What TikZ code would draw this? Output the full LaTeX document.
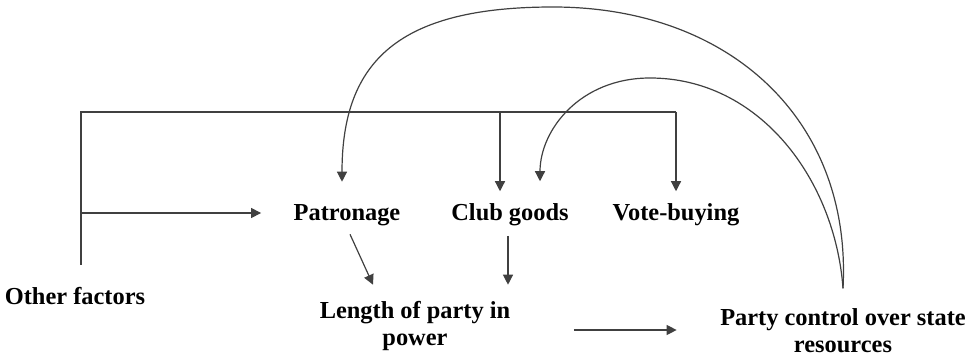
\documentclass[tikz,border=0pt]{standalone}
\usepackage{fontspec}
\setmainfont{Liberation Serif}
\usetikzlibrary{arrows.meta}
\begin{document}
\begin{tikzpicture}[
       x=0.5pt, y=-0.5pt,
       line width=0.6pt,
       >={Triangle[length=5pt,width=5pt]},
       factor/.style={
         font=\bfseries\fontsize{12.2}{13.5}\selectfont,
         align=center,
         inner sep=0pt
       },
       link/.style={
         ->,
         draw=black!75
       }
     ]
       \useasboundingbox (0,0) rectangle (968,358);

       \node (other) at (75,296) [factor]{Other factors};
       \node (patr) at (347,215) [factor]{Patronage};
       \node (club) at (510,215) [factor]{Club goods};
       \node (vote) at (676,215) [factor]{Vote-buying};
       \node (length) at (415,326) [factor]{Length of party in\\power};
       \node (control) at (843,331) [factor]{Party control over state\\resources};

       \coordinate (tl) at (81,112);
       \coordinate (tc) at (500,112);
       \coordinate (tr) at (676,112);
       \coordinate (lm) at (81,213);

       \draw[draw=black!75] ([xshift=3pt,yshift=11pt]other.north) -- (tl) -- (tr);
       \draw[link] (tr) -- ([yshift=6pt]vote.north);
       \draw[link] (tc) -- ([xshift=-5pt,yshift=6pt]club.north);
       \draw[link] (lm) -- ([xshift=-16pt,yshift=1pt]patr.west);

       \draw[link] ([xshift=1.5pt,yshift=-4pt]patr.south) -- ([xshift=-21pt,yshift=8pt]length.north);
       \draw[link] ([xshift=-1pt,yshift=-4.5pt]club.south) -- ([xshift=46.5pt,yshift=8pt]length.north);
       \draw[link] ([xshift=31.5pt,yshift=-2pt]length.east) -- ([xshift=-21.5pt,yshift=0.5pt]control.west);

       \draw[link] ([yshift=10pt]control.north) .. controls (852,120) and (730,7) .. (553,7)
         .. controls (400,7) and (342,60) .. ([xshift=-2.5pt,yshift=11pt]patr.north);
       \draw[link] ([yshift=10pt]control.north) .. controls (835,180) and (760,78) .. (650,78)
         .. controls (580,78) and (540,130) .. ([xshift=15pt,yshift=11pt]club.north);

\end{tikzpicture}
\end{document}
